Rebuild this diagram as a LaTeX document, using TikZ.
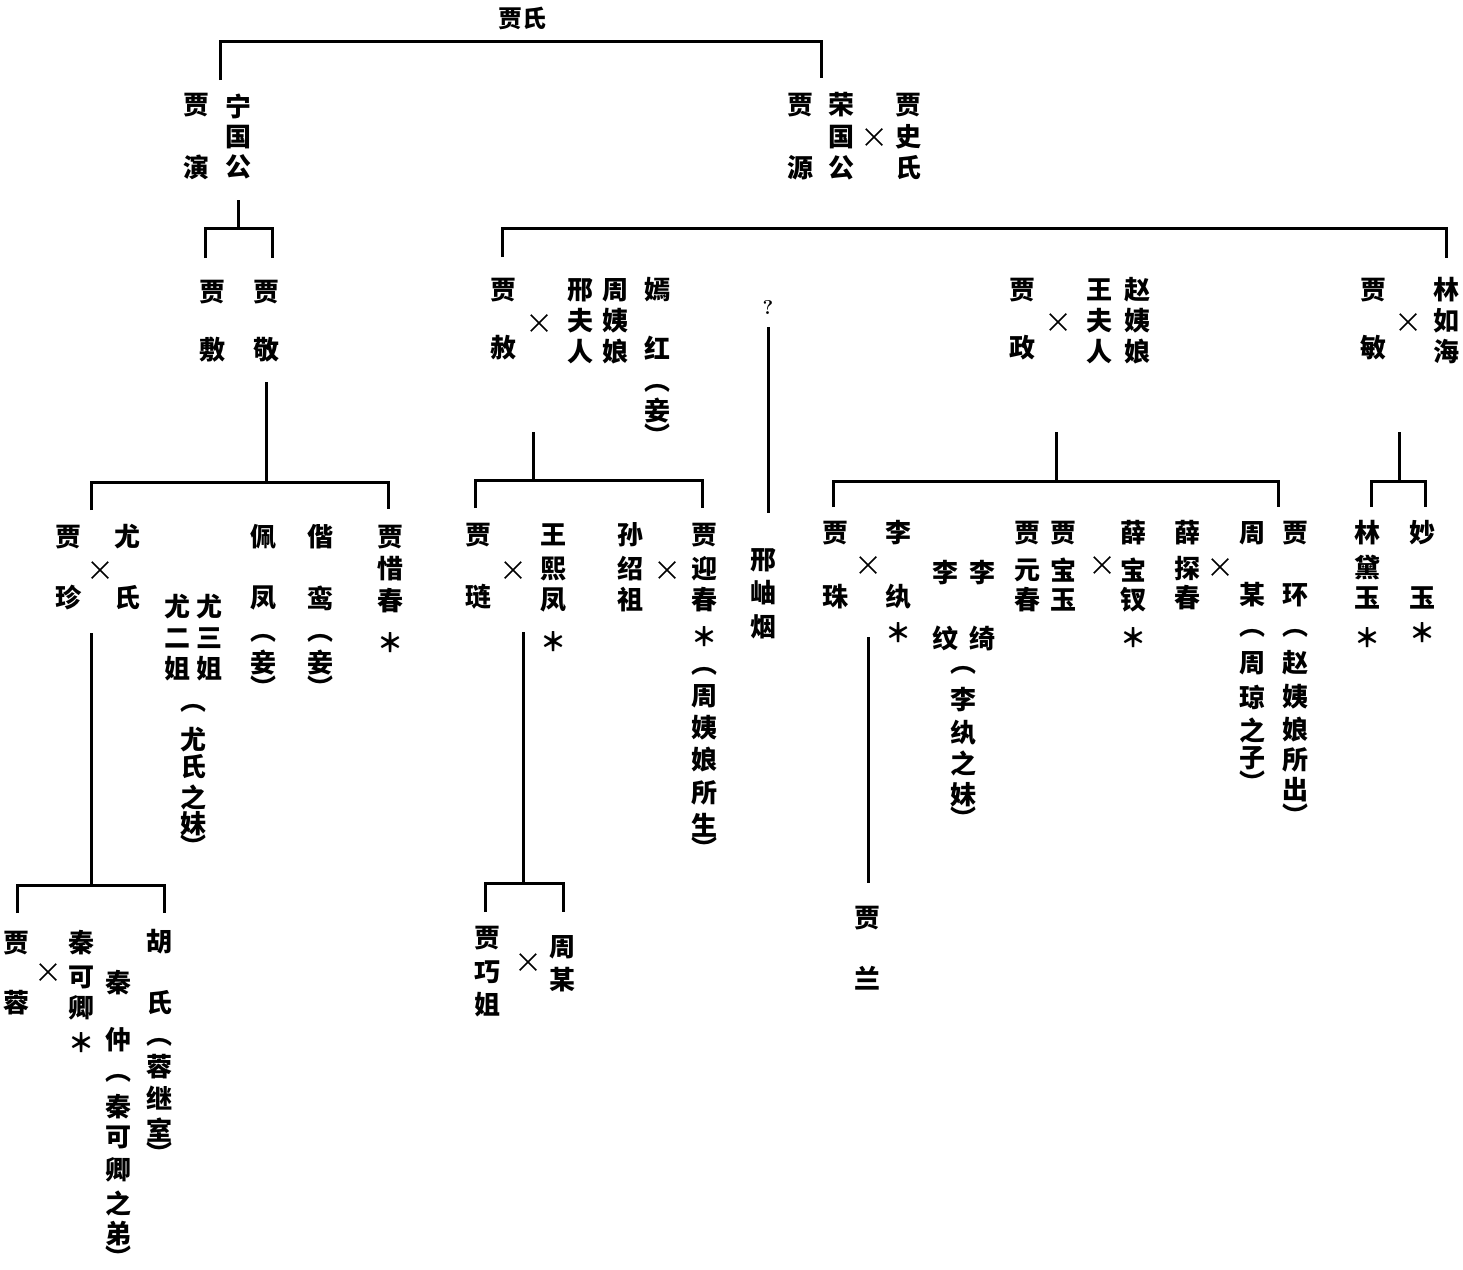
\documentclass[tikz,border=0pt]{standalone}
\usepackage{fontspec}
\newfontfamily\cjk{Noto Sans CJK SC}
\usetikzlibrary{shapes.misc}
\tikzset{
 ch/.style={font=\cjk\bfseries\fontsize{26}{26}\selectfont, inner sep=0pt, anchor=center},
 xmark/.style={cross out, draw, line width=1.5pt, minimum width=15pt, minimum height=15pt, inner sep=0pt},
 ln/.style={line width=3pt, line cap=butt, line join=miter}
}
\newcommand\vcol[3]{\foreach \yy/\cc [count=\ii] in {#3}{\node[ch] (#1-\ii) at (#2,-\yy) {\cc};}}
\newcommand\brk[6]{%
 \coordinate (#1-a) at (#2,-#5); \coordinate (#1-b) at (#2,-#4);
 \coordinate (#1-c) at (#3,-#4); \coordinate (#1-d) at (#3,-#6);
 \draw[ln] (#1-a) -- (#1-b) -- (#1-c) -- (#1-d);}
\newcommand\stem[4]{%
 \coordinate (#1-a) at (#2,-#3); \coordinate (#1-b) at (#2,-#4);
 \draw[ln] (#1-a) -- (#1-b);}
\begin{document}
\begin{tikzpicture}[x=1pt,y=1pt]
\useasboundingbox (0,0) rectangle (1463,-1269);
% root
\node[ch, font=\cjk\bfseries\fontsize{24}{24}\selectfont] (root) at (522,-18) {贾氏};
\brk{b0}{220}{821}{41}{80}{78}
% generation 1
\vcol{yan}{196}{105/贾,167/演}
\vcol{ning}{238}{106/宁,137/国,167/公}
\vcol{yuan}{800}{105/贾,168/源}
\vcol{rong}{841}{105/荣,137/国,168/公}
\node[xmark] (x1) at (874,-137) {};
\vcol{shi}{908}{105/贾,137/史,168/氏}
% Ning branch
\stem{s1}{238}{200}{228}
\brk{b1}{205}{272}{228}{258}{258}
\vcol{fu}{212}{292/贾,350/敷}
\vcol{jing}{266}{292/贾,350/敬}
\stem{s2}{266}{382}{482}
\brk{b2}{91}{388}{482}{510}{509}
% Rong branch
\brk{b3}{502}{1446}{228}{257}{258}
\vcol{she}{503}{290/贾,348/赦}
\node[xmark] (x2) at (539,-323) {};
\vcol{xing}{580}{290/邢,321/夫,352/人}
\vcol{zhouyn}{615}{290/周,321/姨,352/娘}
\vcol{yanhong}{657}{290/嫣,348/红,388/︵,411/妾,435/︶}
\node[inner sep=0pt, font=\bfseries\fontsize{20}{20}\selectfont] (q) at (768,-307) {?};
\stem{s3}{768}{327}{513}
\vcol{zheng}{1022}{290/贾,348/政}
\node[xmark] (x3) at (1058,-322) {};
\vcol{wang}{1099}{290/王,321/夫,352/人}
\vcol{zhao}{1137}{290/赵,321/姨,352/娘}
\vcol{min}{1373}{290/贾,348/敏}
\node[xmark] (x4) at (1408,-322) {};
\vcol{lin}{1446}{290/林,321/如,352/海}
% She children
\stem{s4}{533}{432}{480}
\brk{b4}{475}{702}{480}{508}{508}
% Zheng children
\stem{s5}{1056}{432}{481}
\brk{b5}{833}{1278}{481}{507}{507}
% Min children
\stem{s6}{1399}{432}{481}
\brk{b6}{1371}{1425}{481}{507}{507}
% generation 3, Ning
\vcol{zhen}{68}{537/贾,598/珍}
\node[xmark] (x5) at (100,-570) {};
\vcol{you}{127}{537/尤,598/氏}
\vcol{youer}{177}{607/尤,638/二,669/姐}
\vcol{yousan}{209}{607/尤,638/三,669/姐}
\vcol{younote}{193}{708/︵,740/尤,767/氏,797/之,824/妹,846/︶}
\vcol{peifeng}{263}{537/佩,598/凤,638/︵,663/妾,687/︶}
\vcol{xieluan}{320}{537/偕,598/鸾,638/︵,663/妾,687/︶}
\vcol{xichun}{390}{537/贾,569/惜,601/春,643/＊}
% generation 3, She
\vcol{lian}{478}{535/贾,597/琏}
\node[xmark] (x6) at (513,-570) {};
\vcol{xifeng}{553}{535/王,569/熙,600/凤,642/＊}
\vcol{sun}{630}{535/孙,569/绍,600/祖}
\node[xmark] (x7) at (667,-570) {};
\vcol{yingchun}{704}{535/贾,569/迎,600/春,637/＊,671/︵,696/周,728/姨,760/娘,793/所,825/生,848/︶}
\vcol{xiuyan}{763}{560/邢,593/岫,627/烟}
% generation 3, Zheng
\vcol{zhu}{835}{533/贾,597/珠}
\node[xmark] (x8) at (868,-565) {};
\vcol{liwan}{898}{533/李,597/纨,633/＊}
\vcol{liwen}{945}{573/李,638/纹}
\vcol{liqi}{982}{573/李,638/绮}
\vcol{linote}{963}{670/︵,700/李,733/纨,763/之,795/妹,818/︶}
\vcol{yuanchun}{1027}{533/贾,570/元,600/春}
\vcol{baoyu}{1063}{533/贾,570/宝,600/玉}
\node[xmark] (x9) at (1102,-565) {};
\vcol{baochai}{1133}{533/薛,570/宝,600/钗,638/＊}
\vcol{tanchun}{1187}{533/薛,568/探,598/春}
\node[xmark] (x10) at (1220,-567) {};
\vcol{zhoumou}{1252}{533/周,595/某,633/︵,663/周,697/琼,730/之,758/子,782/︶}
\vcol{huan}{1295}{533/贾,595/环,633/︵,663/赵,697/姨,730/娘,760/所,790/出,815/︶}
% generation 3, Min
\vcol{daiyu}{1367}{533/林,568/黛,598/玉,638/＊}
\vcol{miaoyu}{1422}{533/妙,598/玉,633/＊}
% generation 4
\stem{s7}{91}{633}{885}
\brk{b7}{17}{164}{885}{913}{913}
\vcol{rongr}{16}{943/贾,1003/蓉}
\node[xmark] (x11) at (48,-972) {};
\vcol{keqing}{81}{943/秦,977/可,1008/卿,1043/＊}
\vcol{qinzhong}{118}{983/秦,1040/仲,1078/︵,1107/秦,1137/可,1170/卿,1203/之,1234/弟,1257/︶}
\vcol{hu}{159}{942/胡,1003/氏,1042/︵,1067/蓉,1098/继,1130/室,1153/︶}
\stem{s8}{523}{632}{883}
\brk{b8}{485}{563}{883}{912}{912}
\vcol{qiaojie}{487}{938/贾,972/巧,1005/姐}
\node[xmark] (x12) at (528,-962) {};
\vcol{zhou2}{562}{947/周,980/某}
\stem{s9}{868}{637}{883}
\vcol{lan}{867}{918/贾,978/兰}
\end{tikzpicture}
\end{document}
